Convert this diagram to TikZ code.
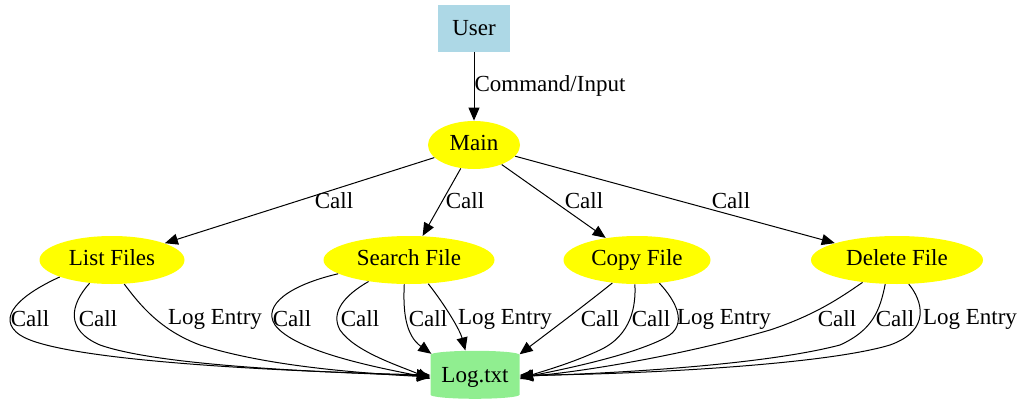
\documentclass[tikz,border=0pt]{standalone}
\usepackage{fontspec}
\setmainfont{Liberation Serif}
\usetikzlibrary{
  arrows.meta,
  shapes.geometric
}
\definecolor{userBlue}{HTML}{ADD8E6}
\definecolor{funcYellow}{HTML}{FFFF00}
\definecolor{logGreen}{HTML}{90EE90}
\tikzset{
  userBox/.style={
    rectangle,
    fill=userBlue,
    minimum width=36pt,
    minimum height=23.5pt,
    inner sep=0pt
  },
  funcNode/.style={
    ellipse,
    fill=funcYellow,
    minimum height=24pt,
    text height=8pt,
    text depth=2.5pt,
    inner sep=0pt
  },
  logStore/.style={
    cylinder,
    shape border rotate=90,
    aspect=0.12,
    fill=logGreen,
    minimum width=44.5pt,
    minimum height=24pt,
    text height=8pt,
    text depth=2.5pt,
    inner sep=0pt
  },
  flowArrow/.style={-{Triangle[length=6.5pt,width=5.5pt]}, line width=0.5pt},
  edgeLabel/.style={inner sep=1pt}
}

\begin{document}
\begin{tikzpicture}[x=0.5pt,y=-0.5pt,font=\fontsize{11.5}{13}\selectfont]
  \useasboundingbox (0,0) rectangle (1034,407);

  % nodes
  \node[userBox] (user) at (474,28) {User};
  \node[funcNode, minimum width=46pt] (main) at (474,145) {Main};
  \node[funcNode, minimum width=72.5pt] (listFiles) at (112,260) {List Files};
  \node[funcNode, minimum width=85.5pt] (searchFile) at (409,260) {Search File};
  \node[funcNode, minimum width=73.5pt] (copyFile) at (637,260) {Copy File};
  \node[funcNode, minimum width=86pt] (deleteFile) at (897,260) {Delete File};
  \node[logStore] (logFile) at (475,377) {Log.txt};

  % user and main
  \draw[flowArrow] (user) -- (main);
  \node[edgeLabel] (cmdLabel) at (550,86) {Command/Input};
  \draw[flowArrow] (main) -- (listFiles);
  \draw[flowArrow] (main) -- (searchFile);
  \draw[flowArrow] (main) -- (copyFile);
  \draw[flowArrow] (main) -- (deleteFile);
  \node[edgeLabel] (callList) at (334,201) {Call};
  \node[edgeLabel] (callSearch) at (465,201) {Call};
  \node[edgeLabel] (callCopy) at (584,201) {Call};
  \node[edgeLabel] (callDelete) at (731,201) {Call};

  % list files to log
  \draw[flowArrow] (listFiles.198) .. controls (20,295) and (-5,318) .. (20,335)
    .. controls (60,362) and (300,372) .. ([yshift=1pt]logFile.west);
  \draw[flowArrow] (listFiles.226) .. controls (70,305) and (65,330) .. (100,345)
    .. controls (160,366) and (320,372) .. ([yshift=0.5pt]logFile.west);
  \draw[flowArrow] (listFiles.297) .. controls (140,305) and (160,330) .. (200,345)
    .. controls (260,364) and (340,372) .. (logFile.west);
  \node[edgeLabel] (lfCallA) at (30,319) {Call};
  \node[edgeLabel] (lfCallB) at (98,319) {Call};
  \node[edgeLabel] (lfLog) at (215,319) {Log Entry};

  % search file to log
  \draw[flowArrow] (searchFile.191) .. controls (290,285) and (262,305) .. (275,325)
    .. controls (295,352) and (380,368) .. ([yshift=-0.5pt]logFile.west);
  \draw[flowArrow] (searchFile.208) .. controls (345,295) and (330,312) .. (340,330)
    .. controls (355,352) and (400,366) .. ([yshift=-1pt]logFile.west);
  \draw[flowArrow] (searchFile.259) .. controls (403,310) and (405,335) .. (logFile.152);
  \draw[flowArrow] (searchFile.309) .. controls (445,305) and (460,330) .. (logFile.110);
  \node[edgeLabel] (sfCallA) at (292,319) {Call};
  \node[edgeLabel] (sfCallB) at (360,319) {Call};
  \node[edgeLabel] (sfCallC) at (428,319) {Call};
  \node[edgeLabel] (sfLog) at (505,319) {Log Entry};

  % copy file to log
  \draw[flowArrow] (copyFile.223) .. controls (585,305) and (545,335) .. (logFile.27);
  \draw[flowArrow] (copyFile.265) .. controls (636,305) and (632,335) .. (600,350)
    .. controls (570,364) and (540,372) .. ([yshift=-1pt]logFile.east);
  \draw[flowArrow] (copyFile.314) .. controls (675,300) and (690,325) .. (665,338)
    .. controls (630,356) and (560,370) .. ([yshift=-0.5pt]logFile.east);
  \node[edgeLabel] (cfCallA) at (600,319) {Call};
  \node[edgeLabel] (cfCallB) at (651,319) {Call};
  \node[edgeLabel] (cfLog) at (724,319) {Log Entry};

  % delete file to log
  \draw[flowArrow] (deleteFile.213) .. controls (840,298) and (815,315) .. (770,330)
    .. controls (680,356) and (580,372) .. (logFile.east);
  \draw[flowArrow] (deleteFile.244) .. controls (880,310) and (873,330) .. (840,345)
    .. controls (760,366) and (600,374) .. ([yshift=0.5pt]logFile.east);
  \draw[flowArrow] (deleteFile.296) .. controls (922,300) and (932,330) .. (890,345)
    .. controls (820,366) and (620,375) .. ([yshift=1pt]logFile.east);
  \node[edgeLabel] (dfCallA) at (837,319) {Call};
  \node[edgeLabel] (dfCallB) at (895,319) {Call};
  \node[edgeLabel] (dfLog) at (970,319) {Log Entry};
\end{tikzpicture}
\end{document}
